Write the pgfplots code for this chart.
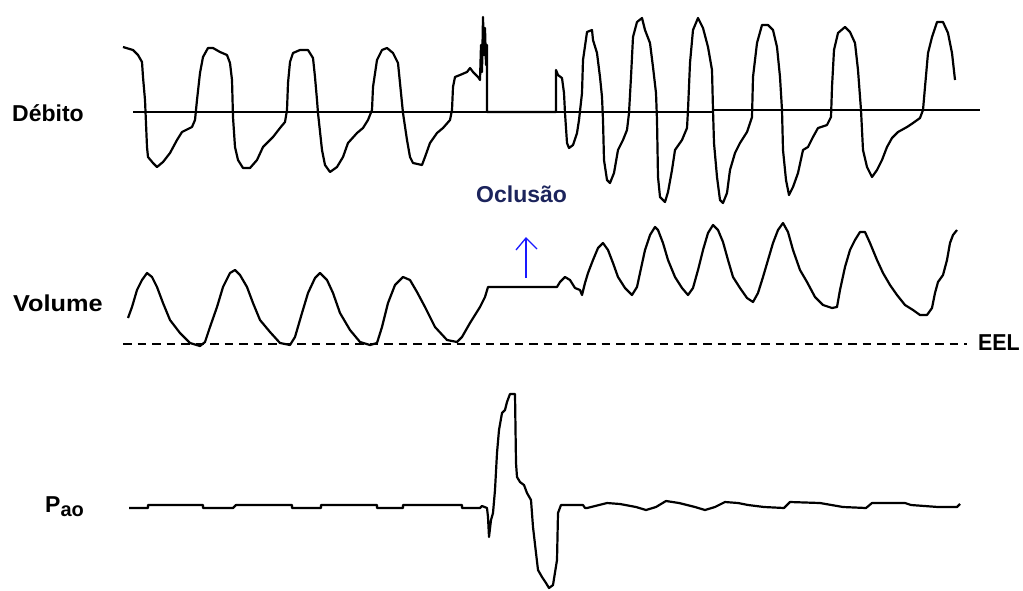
\documentclass[border=0pt]{standalone}
\usepackage{pgfplots}
\pgfplotsset{compat=1.18}
\usepackage{fontspec}
\setmainfont{Liberation Sans}
\definecolor{navytext}{RGB}{28,36,92}
\definecolor{arrowblue}{RGB}{25,25,255}

\begin{document}
\begin{tikzpicture}
\begin{axis}[
  width=1023pt, height=590pt, scale only axis,
  xmin=0, xmax=1023, ymin=0, ymax=590, y dir=reverse,
  hide axis, clip=false,
  trace/.style={black, line width=2.2pt, line join=round, mark=none},
]
% frame of the page
\path (axis cs:0,0) (axis cs:1023,590);

% flow: zero line
\addplot[black, line width=1.5pt, mark=none] coordinates {(133,112) (713,112) (713,110) (980,110)};
% flow trace
\addplot[trace] coordinates {
(123,47) (133,50) (138,55) (142,62) (143,77) (145,100) (147,147) (148,157) (153,163) (157,167)
(163,162) (170,153) (177,140) (182,132) (192,127) (195,120) (197,100) (200,73) (203,57) (208,48)
(213,48) (220,52) (227,55) (230,63) (232,80) (233,117) (235,147) (238,160) (243,168) (250,168)
(257,160) (263,147) (273,137) (280,128) (285,122) (287,110) (288,83) (290,62) (293,53) (300,50)
(308,50) (313,58) (315,77) (317,100) (318,113) (322,150) (325,165) (330,172) (337,167) (343,157)
(348,143) (357,133) (363,128) (368,120) (372,110) (373,87) (377,60) (382,50) (387,48) (393,53)
(398,63) (400,83) (403,113) (407,140) (410,157) (413,163) (422,165) (425,157) (430,143) (437,133)
(443,128) (450,120) (452,110) (453,87) (455,77) (460,75) (467,72) (470,68) (473,72) (478,77)
(480,80) (481,45) (482,72) (483,17) (484,55) (485,28) (486,65) (487,45) (487,112) (556,112)
(556,70) (558,75) (562,78) (564,93) (565,113) (567,143) (569,148) (573,145) (577,133) (579,120)
(582,93) (583,60) (587,32) (592,30) (593,40) (597,53) (600,77) (602,97) (603,120) (604,160)
(607,180) (610,183) (614,173) (618,150) (623,140) (627,130) (629,113) (631,77) (633,37) (637,22)
(642,18) (645,30) (650,43) (653,67) (656,93) (657,120) (658,177) (660,197) (665,202) (668,192)
(672,170) (675,150) (682,140) (687,128) (688,110) (690,63) (693,30) (698,18) (703,28) (708,47)
(712,70) (713,110) (714,143) (717,177) (720,200) (723,203) (727,193) (730,170) (735,153) (740,143)
(747,132) (752,117) (753,77) (757,43) (762,25) (768,25) (773,30) (777,47) (780,77) (782,110)
(783,150) (786,180) (789,195) (793,187) (798,173) (803,150) (808,147) (813,137) (818,128) (827,125)
(831,117) (832,87) (834,50) (838,33) (845,27) (850,32) (855,43) (858,70) (861,110) (863,150)
(867,167) (872,177) (877,170) (882,160) (887,147) (892,138) (898,132) (907,127) (913,123) (920,118)
(923,110) (925,87) (928,53) (932,37) (937,22) (943,22) (948,33) (952,53) (955,80)
};

% volume: end-expiratory level
\addplot[black, line width=2pt, dash pattern=on 8.5pt off 6pt, mark=none] coordinates {(123,344) (967,344)};
% volume trace
\addplot[trace] coordinates {
(128,318) (132,307) (137,290) (142,280) (147,273) (152,277) (157,287) (163,303) (170,320) (180,333)
(190,343) (200,346) (205,342) (210,327) (217,307) (223,287) (230,273) (235,270) (240,275) (247,287)
(253,303) (260,320) (270,332) (280,343) (290,345) (295,337) (302,313) (308,293) (315,278) (320,273)
(327,280) (333,293) (340,313) (350,330) (360,342) (370,345) (377,343) (382,327) (388,303) (395,285)
(403,277) (410,280) (417,292) (425,307) (435,327) (447,340) (457,342) (462,337) (470,323) (480,307)
(485,297) (488,287) (557,287) (560,282) (565,277) (570,280) (575,288) (580,290) (582,295) (585,283)
(588,273) (593,260) (598,248) (603,243) (608,250) (613,263) (618,277) (625,288) (632,295) (637,287)
(640,273) (645,250) (650,235) (655,227) (658,230) (663,243) (668,260) (675,277) (682,288) (688,295)
(693,288) (698,270) (703,250) (708,233) (713,225) (718,230) (723,242) (728,260) (733,277) (740,288)
(747,298) (753,302) (758,293) (763,277) (768,260) (773,243) (778,230) (783,223) (788,232) (793,250)
(800,270) (807,282) (815,297) (823,305) (832,308) (837,307) (840,290) (845,267) (850,250) (855,240)
(860,232) (865,232) (870,243) (877,260) (883,273) (890,285) (897,295) (905,305) (913,310) (920,315)
(927,315) (932,308) (935,293) (938,282) (943,275) (947,260) (950,243) (953,235) (957,230)
};

% airway opening pressure
\addplot[trace] coordinates {
(129,508) (148,508) (148,505) (203,505) (203,508) (233,508) (236,505) (292,505) (292,508) (321,508)
(321,505) (377,505) (377,508) (403,508) (403,505) (462,505) (462,508) (480,508) (482,506) (487,508)
(488,517) (489,537) (491,520) (493,513) (495,490) (497,453) (499,430) (502,413) (505,410) (507,402)
(510,394) (515,394) (516,463) (517,477) (520,482) (524,485) (527,493) (531,500) (533,527) (536,553)
(538,570) (542,577) (546,583) (549,588) (553,585) (557,560) (558,513) (561,505) (583,505) (585,508)
(587,508) (607,503) (620,504) (636,507) (646,510) (656,507) (666,501) (679,503) (695,507) (705,510)
(715,507) (725,502) (738,503) (748,505) (764,507) (784,508) (790,502) (820,503) (843,507) (866,508)
(872,503) (905,503) (911,505) (938,507) (957,507) (960,504)
};

% occlusion marker
\draw[arrowblue, line width=1.3pt] (axis cs:526,278) -- (axis cs:526,238);
\draw[arrowblue, line width=1.3pt] (axis cs:516,250) -- (axis cs:526,238) -- (axis cs:537,249);

% labels
\tikzset{lab/.style={anchor=base west, inner sep=0pt, font=\fontsize{23}{27}\selectfont\bfseries}}
\node[lab] at (axis cs:12,121) {Débito};
\node[lab] at (axis cs:13,311) {\scalebox{1.1}[1]{Volume}};
\node[lab] at (axis cs:978,350) {\scalebox{0.93}[1]{EEL}};
\node[lab, text=navytext] at (axis cs:476,202) {Oclusão};
\node[lab] at (axis cs:45,512) {P\raisebox{-4pt}{\fontsize{20}{24}\selectfont ao}};
\end{axis}
\end{tikzpicture}
\end{document}
